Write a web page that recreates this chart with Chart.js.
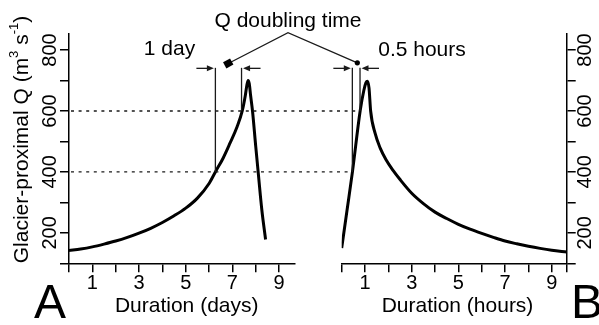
<!DOCTYPE html>
<html><head><meta charset="utf-8">
<script src="https://cdn.jsdelivr.net/npm/chart.js@4.4.1/dist/chart.umd.min.js"></script>
<style>html,body{margin:0;padding:0;background:#fff}canvas{display:block}</style>
</head><body>
<canvas id="c" width="599" height="325"></canvas>
<script>
// ---- data ----
const daysX  = [0, 0.5, 1, 1.5, 2, 2.5, 3, 3.5, 4, 4.5, 5, 5.5, 6, 6.27, 6.6, 6.9, 7.2, 7.42, 7.55, 7.62, 7.67, 7.72, 7.78, 7.86, 8.0, 8.12, 8.26, 8.42];
const daysQ  = [142, 147, 154, 163, 173, 185, 199, 215, 234, 256, 281, 314, 362, 400, 445, 495, 548, 600, 650, 685, 700, 690, 650, 600, 482, 385, 275, 178];
const hoursX = [0, 0.23, 0.46, 0.79, 0.95, 1.04, 1.1, 1.17, 1.24, 1.43, 1.65, 1.9, 2.2, 2.5, 3, 3.5, 4, 4.5, 5, 5.5, 6, 6.5, 7, 7.5, 8, 8.5, 9, 9.64];
const hoursQ = [150, 275, 400, 600, 668, 693, 698, 676, 600, 527, 478, 440, 405, 375, 330, 296, 268, 247, 228, 212, 198, 185, 173, 164, 156, 149, 143, 137];
const yTickLabels = [200, 400, 600, 800];
const xTickLabels = [1, 3, 5, 7, 9];
const thresholdsQ = [400, 600];          // Q levels of the doubling-time guides
const doublingDays = [6.27, 7.39];       // where the day curve reaches 400 and 600
const doublingHours = [0.456, 0.785];    // where the hour curve reaches 400 and 600
const labels = {
  yTitle: ['Glacier-proximal Q (m', '3', ' s', '-1', ')'],
  xDays: 'Duration (days)', xHours: 'Duration (hours)',
  doubling: 'Q doubling time', day: '1 day', hours: '0.5 hours',
  panelA: 'A', panelB: 'B'
};

const FONT = '"Liberation Sans", Arial, Helvetica, sans-serif';

function drawArrow(ctx, x0, y0, x1, y1) {
  const dir = Math.sign(x1 - x0);
  ctx.beginPath(); ctx.moveTo(x0, y0); ctx.lineTo(x1 - dir * 5, y1); ctx.stroke();
  ctx.beginPath(); ctx.moveTo(x1, y1); ctx.lineTo(x1 - dir * 7, y1 - 3); ctx.lineTo(x1 - dir * 7, y1 + 3); ctx.closePath(); ctx.fill();
}

const annot = {
  id: 'annot',
  afterDraw(chart) {
    const {ctx, chartArea, scales} = chart;
    const xd = scales.xd, xh = scales.xh, y = scales.yl;
    ctx.save();
    ctx.strokeStyle = '#1a1a1a'; ctx.fillStyle = '#1a1a1a';
    ctx.lineWidth = 1.3;
    // dotted guides
    ctx.setLineDash([3, 4.6]);
    thresholdsQ.forEach((q, i) => {
      const py = y.getPixelForValue(q);
      ctx.beginPath(); ctx.moveTo(chartArea.left + 2, py); ctx.lineTo(xh.getPixelForValue(doublingHours[i]), py); ctx.stroke();
    });
    ctx.setLineDash([]);
    // vertical guides + arrows
    const ay = y.getPixelForValue(740);
    [[xd, doublingDays], [xh, doublingHours]].forEach(([sc, vals]) => {
      vals.forEach((v, i) => {
        const px = sc.getPixelForValue(v);
        ctx.beginPath(); ctx.moveTo(px, ay - 0.5); ctx.lineTo(px, y.getPixelForValue(thresholdsQ[i])); ctx.stroke();
        const d = i === 0 ? 1 : -1;
        drawArrow(ctx, px - d * 19, ay, px - d * 1.5, ay);
      });
    });
    // leader lines from the title
    const apx = xd.getPixelForValue(9.38), apy = y.getPixelForValue(857);
    const lmx = xd.getPixelForValue(6.82), lmy = y.getPixelForValue(756);
    const rmx = xh.getPixelForValue(0.67), rmy = y.getPixelForValue(758);
    ctx.beginPath(); ctx.moveTo(lmx, lmy); ctx.lineTo(apx, apy); ctx.lineTo(rmx, rmy); ctx.stroke();
    ctx.fillStyle = '#000';
    ctx.save(); ctx.translate(lmx, lmy); ctx.rotate(-0.5); ctx.fillRect(-4, -3.5, 8, 7); ctx.restore();
    ctx.beginPath(); ctx.arc(rmx, rmy, 2.6, 0, Math.PI * 2); ctx.fill();
    // texts
    ctx.fillStyle = '#000';
    ctx.textBaseline = 'alphabetic';
    ctx.font = '21px ' + FONT;
    ctx.textAlign = 'center';
    ctx.fillText(labels.doubling, 288, 27);
    ctx.fillText(labels.day, 169.5, 55);
    ctx.fillText(labels.hours, 422, 56);
    ctx.fillText(labels.xDays, 186.7, 311.5);
    ctx.fillText(labels.xHours, 457.5, 311.5);
    ctx.font = '48px ' + FONT;
    ctx.fillText(labels.panelA, 50, 318);
    ctx.textAlign = 'left';
    ctx.fillText(labels.panelB, 571, 317.5);
    // y title with superscripts
    ctx.save();
    ctx.translate(22, 139.5); ctx.rotate(-Math.PI / 2);
    ctx.textBaseline = 'middle'; ctx.textAlign = 'left';
    const parts = labels.yTitle.map((t, i) => ({t, sup: i % 2 === 1}));
    let total = 0;
    parts.forEach(p => { ctx.font = (p.sup ? '13px ' : '21px ') + FONT; p.w = ctx.measureText(p.t).width; total += p.w; });
    let cx = -total / 2;
    parts.forEach(p => { ctx.font = (p.sup ? '13px ' : '21px ') + FONT; ctx.fillText(p.t, cx, p.sup ? -8 : 0); cx += p.w; });
    ctx.restore();
    ctx.restore();
  }
};

const tickFont = {family: FONT, size: 20};
const grid = {display: true, drawOnChartArea: false, drawTicks: true, tickLength: 9, color: '#000', lineWidth: 1.5};
const border = {display: true, color: '#000', width: 1.5};
function xAxis(weight, stackWeight, max, endTick) {
  return {
    type: 'linear', position: 'bottom', stack: 'bottom', stackWeight, weight, min: 0, max, offset: false,
    grid, border,
    ticks: {stepSize: 1, autoSkip: false, includeBounds: false, minRotation: 0, maxRotation: 0, padding: -1, color: '#000', font: tickFont,
      callback: v => xTickLabels.includes(v) ? String(v) : ''},
    afterBuildTicks: s => { if (endTick) s.ticks.push({value: s.max}); },
    afterFit: s => { s.height = 61.7; }
  };
}
function yAxis(position, width, pad) {
  return {
    type: 'linear', position, min: 100, max: 855, grid, border,
    ticks: {stepSize: 100, autoSkip: false, includeBounds: false, minRotation: 90, maxRotation: 90, crossAlign: 'center', padding: pad, color: '#000', font: tickFont,
      callback: v => yTickLabels.includes(v) ? String(v) : ''},
    afterFit: s => { s.width = width; }
  };
}

const lineStyle = {borderColor: '#000', backgroundColor: '#000', borderWidth: 3, pointRadius: 0, cubicInterpolationMode: 'monotone', fill: false, borderJoinStyle: 'round'};

new Chart(document.getElementById('c'), {
  type: 'line',
  data: {
    datasets: [
      Object.assign({data: daysX.map((x, i) => ({x, y: daysQ[i]})), xAxisID: 'xd', yAxisID: 'yl'}, lineStyle),
      Object.assign({data: hoursX.map((x, i) => ({x, y: hoursQ[i]})), xAxisID: 'xh', yAxisID: 'yl'}, lineStyle)
    ]
  },
  options: {
    responsive: false, animation: false, devicePixelRatio: 1,
    layout: {padding: {top: 33.3, left: 0, right: 0, bottom: 0}},
    plugins: {legend: {display: false}, tooltip: {enabled: false}, colors: {enabled: false}},
    scales: {
      xd: xAxis(1, 226, 9.68, false),
      gap: {type: 'linear', position: 'bottom', stack: 'bottom', stackWeight: 46.7, weight: 2, min: 0, max: 1,
        ticks: {display: false}, grid: {display: false}, border: {display: false}, afterFit: s => { s.height = 61.7; }},
      xh: xAxis(3, 225, 9.64, true),
      yl: yAxis('left', 69, -7),
      yr: yAxis('right', 32.3, -7)
    }
  },
  plugins: [annot]
});
</script>
</body></html>
